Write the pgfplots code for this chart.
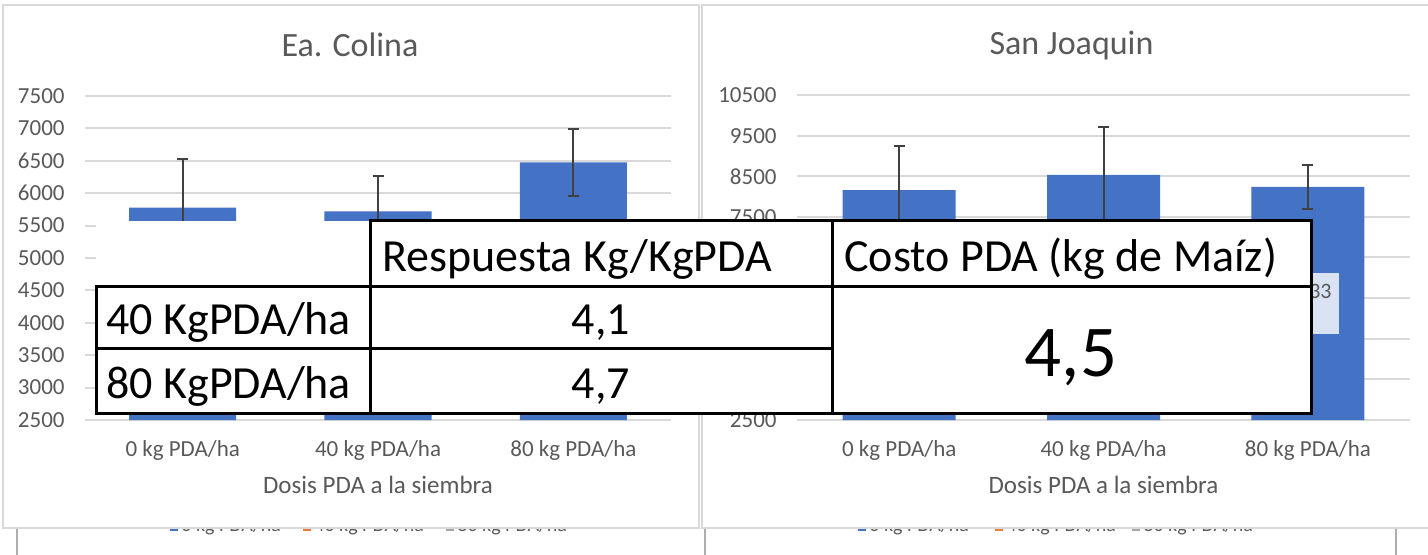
\documentclass[border=0pt]{standalone}
\usepackage{pgfplots}
\pgfplotsset{compat=1.18}
\usepackage{fontspec}
\setmainfont{Carlito}

\definecolor{barblue}{HTML}{4472C4}
\definecolor{gridgray}{HTML}{D9D9D9}
\definecolor{txtgray}{HTML}{595959}
\definecolor{errgray}{HTML}{404040}
\definecolor{lblfill}{HTML}{DAE3F3}
\definecolor{legorange}{HTML}{ED7D31}
\definecolor{leggray}{HTML}{A5A5A5}

\pgfplotsset{
  panel/.style={
    scale only axis,
    ybar,
    xmin=-0.5, xmax=2.5,
    xtick={0,1,2},
    xticklabels={0 kg PDA/ha, 40 kg PDA/ha, 80 kg PDA/ha},
    major tick length=0pt,
    ymajorgrids,
    grid style={gridgray, line width=1pt},
    axis line style={draw=none},
    scaled y ticks=false,
    tick label style={font=\fontsize{11.5}{13}\selectfont, text=txtgray},
    /pgf/number format/assume math mode=true,
    /pgf/number format/1000 sep={},
    every axis title shift=0pt,
    title style={font=\fontsize{17}{20}\selectfont, text=txtgray, anchor=base, at={(0.5,1)}, yshift=20pt},
    xlabel style={font=\fontsize{12.5}{15}\selectfont, text=txtgray, anchor=center, at={(0.5,0)}, yshift=-32.5pt},
    xticklabel style={anchor=center, yshift=-15pt},
    yticklabel style={anchor=east, inner sep=0pt, xshift=-10pt},
    xlabel={Dosis PDA a la siembra},
  },
  errs/.style={
    fill=barblue, draw=none,
    error bars/.cd, y dir=both, y explicit,
    error bar style={draw=errgray, line width=1pt},
    error mark options={draw=errgray, line width=1pt, mark size=2.75pt, rotate=90},
  },
}

\begin{document}
\begin{tikzpicture}[x=0.5pt, y=-0.5pt]
\useasboundingbox (0,0) rectangle (1428,555);

% page lines and clipped legends below the panels
\draw[gridgray!80!black, line width=0.6pt] (17,528) -- (17,555);
\draw[gridgray!80!black, line width=0.6pt] (705,528) -- (705,555);
\draw[gridgray!80!black, line width=0.6pt] (1396,528) -- (1396,555);
\begin{scope}[font=\fontsize{10}{12}\selectfont, text=txtgray]
  \fill[barblue] (170,525) rectangle (178,531);
  \node[anchor=base west, inner sep=0pt] at (181,531) {0 kg PDA/ha};
  \fill[legorange] (303,525) rectangle (311,531);
  \node[anchor=base west, inner sep=0pt] at (314,531) {40 kg PDA/ha};
  \fill[leggray] (446,525) rectangle (454,531);
  \node[anchor=base west, inner sep=0pt] at (457,531) {80 kg PDA/ha};
  \fill[barblue] (858,525) rectangle (866,531);
  \node[anchor=base west, inner sep=0pt] at (869,531) {0 kg PDA/ha};
  \fill[legorange] (995,525) rectangle (1003,531);
  \node[anchor=base west, inner sep=0pt] at (1006,531) {40 kg PDA/ha};
  \fill[leggray] (1132,525) rectangle (1140,531);
  \node[anchor=base west, inner sep=0pt] at (1143,531) {80 kg PDA/ha};
\end{scope}

% panel frames
\filldraw[fill=white, draw=gridgray, line width=1pt] (3,5) rectangle (699,528);
\filldraw[fill=white, draw=gridgray, line width=1pt] (702,5) rectangle (1460,528);

\coordinate (LA) at (85,420);
\coordinate (RA) at (797,420);

\begin{axis}[panel, at={(LA)}, anchor=south west,
  width=293pt, height=162pt, bar width=53.5pt,
  ymin=2500, ymax=7500, ytick={2500,3000,...,7500},
  title={Ea. Colina}, title style={xshift=-14pt}]
\addplot[errs] coordinates {(0,5776) +- (0,745) (1,5720) +- (0,545) (2,6475) +- (0,512)};
\end{axis}

\begin{axis}[panel, at={(RA)}, anchor=south west,
  width=306.5pt, height=162.5pt, bar width=56.5pt,
  ymin=2500, ymax=10500, ytick={2500,3500,...,10500},
  title={San Joaquin}, title style={xshift=-16pt}]
\addplot[errs] coordinates {(0,8158) +- (0,1075) (1,8534) +- (0,1183) (2,8239) +- (0,542)};
\end{axis}

% data label partly hidden behind the table
\fill[lblfill] (1268,273) rectangle (1339,334);
\node[anchor=east, inner sep=0pt, text=txtgray, font=\fontsize{11}{13}\selectfont] at (1332,291) {8233};

% overlaid table
\fill[white] (96,221) rectangle (1311,413);
\draw[black, line width=1.5pt, line cap=rect]
  (370,221) -- (1311,221) -- (1311,413) -- (96,413) -- (96,287) -- (1311,287)
  (370,221) -- (370,413)
  (832,221) -- (832,413)
  (96,349) -- (832,349);
\begin{scope}[font=\fontsize{23}{27}\selectfont]
  \node[anchor=base west, inner sep=0pt] at (382,272) {Respuesta Kg/KgPDA};
  \node[anchor=base west, inner sep=0pt] at (844,272) {Costo PDA (kg de Maíz)};
  \node[anchor=base west, inner sep=0pt] at (106,335) {40 KgPDA/ha};
  \node[anchor=base west, inner sep=0pt] at (106,398) {80 KgPDA/ha};
  \node[anchor=base, inner sep=0pt] at (601,335) {4,1};
  \node[anchor=base, inner sep=0pt] at (601,398) {4,7};
\end{scope}
\node[anchor=base, inner sep=0pt, font=\fontsize{36.5}{42}\selectfont] at (1071,377) {4,5};
\end{tikzpicture}
\end{document}
